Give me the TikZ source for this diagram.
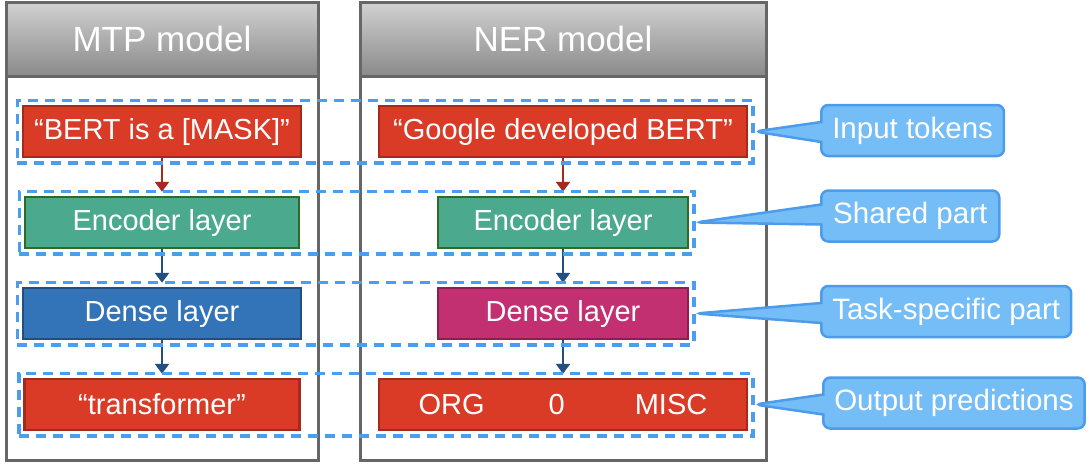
\documentclass[tikz,border=0pt]{standalone}
\usepackage{fontspec}
\setmainfont{Liberation Sans}
\usetikzlibrary{positioning, arrows.meta, fit, shapes.callouts}

\definecolor{rojo}{HTML}{D93B27}
\definecolor{rojo_borde}{HTML}{A52A1C}
\definecolor{verde}{HTML}{4BA98D}
\definecolor{verde_borde}{HTML}{2F6B26}
\definecolor{azul}{HTML}{3373B8}
\definecolor{azul_borde}{HTML}{234E80}
\definecolor{magenta}{HTML}{C33072}
\definecolor{magenta_borde}{HTML}{8A1F50}
\definecolor{celeste}{HTML}{74BDF6}
\definecolor{celeste_borde}{HTML}{4C9CEB}
\definecolor{discont}{HTML}{4A9EF0}
\definecolor{marco}{HTML}{666666}

\begin{document}
\begin{tikzpicture}[
		x=1pt, y=-1pt,
		% Separación vertical entre capas
		node distance=37.5pt,
		% Paneles de cada modelo
		panel/.style={draw=marco, line width=3pt, fill=white, minimum height=458pt, inner sep=0pt},
		cabecera/.style={draw=marco, line width=3pt, top color=black!18, bottom color=black!46, minimum height=74pt, text=white, font=\fontsize{35}{40}\selectfont},
		% Cajas de las capas
		caja/.style={line width=2.5pt, rectangle, minimum height=51pt, text=white, inner sep=0pt, font=\fontsize{29}{33}\selectfont},
		token/.style={caja, fill=rojo, draw=rojo_borde},
		encoder/.style={caja, fill=verde, draw=verde_borde},
		densa_mtp/.style={caja, fill=azul, draw=azul_borde},
		densa_ner/.style={caja, fill=magenta, draw=magenta_borde},
		% Filas discontinuas y notas
		fila/.style={draw=discont, line width=3.5pt, dash pattern=on 10pt off 7pt, inner sep=4.5pt},
		nota/.style={rectangle callout, fill=celeste, draw=celeste_borde, line width=2.5pt, rounded corners=7pt, callout pointer width=20pt, text=white, minimum width=178pt, minimum height=51pt, inner xsep=11pt, anchor=west, font=\fontsize{29.5}{34}\selectfont},
		% Flechas
		flecha_roja/.style={-{Triangle[length=10pt, width=14pt]}, line width=2.5pt, draw=rojo_borde, shorten >=4pt},
		flecha_azul/.style={-{Triangle[length=10pt, width=14pt]}, line width=2.5pt, draw=azul_borde, shorten >=4pt}
		]
		
		\useasboundingbox (0,0) rectangle (1092,464);
		
		% --- PANELES ---
		\node[panel, minimum width=312pt] (mtp) at (162,231) {};
		\node[cabecera, minimum width=312pt, anchor=north] (mtp_cab) at (mtp.north) {MTP model};
		\node[panel, minimum width=406pt] (ner) at (563,231) {};
		\node[cabecera, minimum width=406pt, anchor=north] (ner_cab) at (ner.north) {NER model};
		
		% --- MODELO MTP ---
		\node[token, minimum width=278pt] (in_mtp) at (162,131.5) {“BERT is a [MASK]”};
		\node[encoder, minimum width=274pt, below=of in_mtp] (enc_mtp) {Encoder layer};
		\node[densa_mtp, minimum width=278pt, below=of enc_mtp] (densa_mtp) {Dense layer};
		\node[token, minimum width=275pt, below=of densa_mtp] (out_mtp) {“transformer”};
		
		% --- MODELO NER ---
		\node[token, minimum width=368pt, at={(ner |- in_mtp)}] (in_ner) {“Google developed BERT”};
		\node[encoder, minimum width=250pt, below=of in_ner] (enc_ner) {Encoder layer};
		\node[densa_ner, minimum width=250pt, below=of enc_ner] (densa_ner) {Dense layer};
		\node[token, minimum width=368pt, below=of densa_ner] (out_ner) {ORG\hspace{64pt}0\hspace{70pt}MISC};
		
		% --- FLECHAS ---
		\draw[flecha_roja] (in_mtp) -- (enc_mtp);
		\draw[flecha_azul] (enc_mtp) -- (densa_mtp);
		\draw[flecha_azul] (densa_mtp) -- (out_mtp);
		\draw[flecha_roja] (in_ner) -- (enc_ner);
		\draw[flecha_azul] (enc_ner) -- (densa_ner);
		\draw[flecha_azul] (densa_ner) -- (out_ner);
		
		% --- FILAS DISCONTINUAS ---
		\node[fila, fit={(in_mtp) (in_ner)}] (fila_in) {};
		\node[fila, fit={(enc_mtp) (enc_ner)}] (fila_enc) {};
		\node[fila, fit={(densa_mtp) (densa_ner)}] (fila_densa) {};
		\node[fila, fit={(out_mtp) (out_ner)}] (fila_out) {};
		
		% --- NOTAS ---
		\node[nota, callout absolute pointer={(fila_in.east)}] (nota_in) at (820,130.5) {Input tokens};
		\node[nota, callout absolute pointer={(fila_enc.east)}] (nota_enc) at (820,216) {Shared part};
		\node[nota, callout absolute pointer={(fila_densa.east)}] (nota_densa) at (820,311.5) {Task-specific part};
		\node[nota, callout absolute pointer={(fila_out.east)}] (nota_out) at (822,403) {Output predictions};
		
	\end{tikzpicture}
\end{document}
